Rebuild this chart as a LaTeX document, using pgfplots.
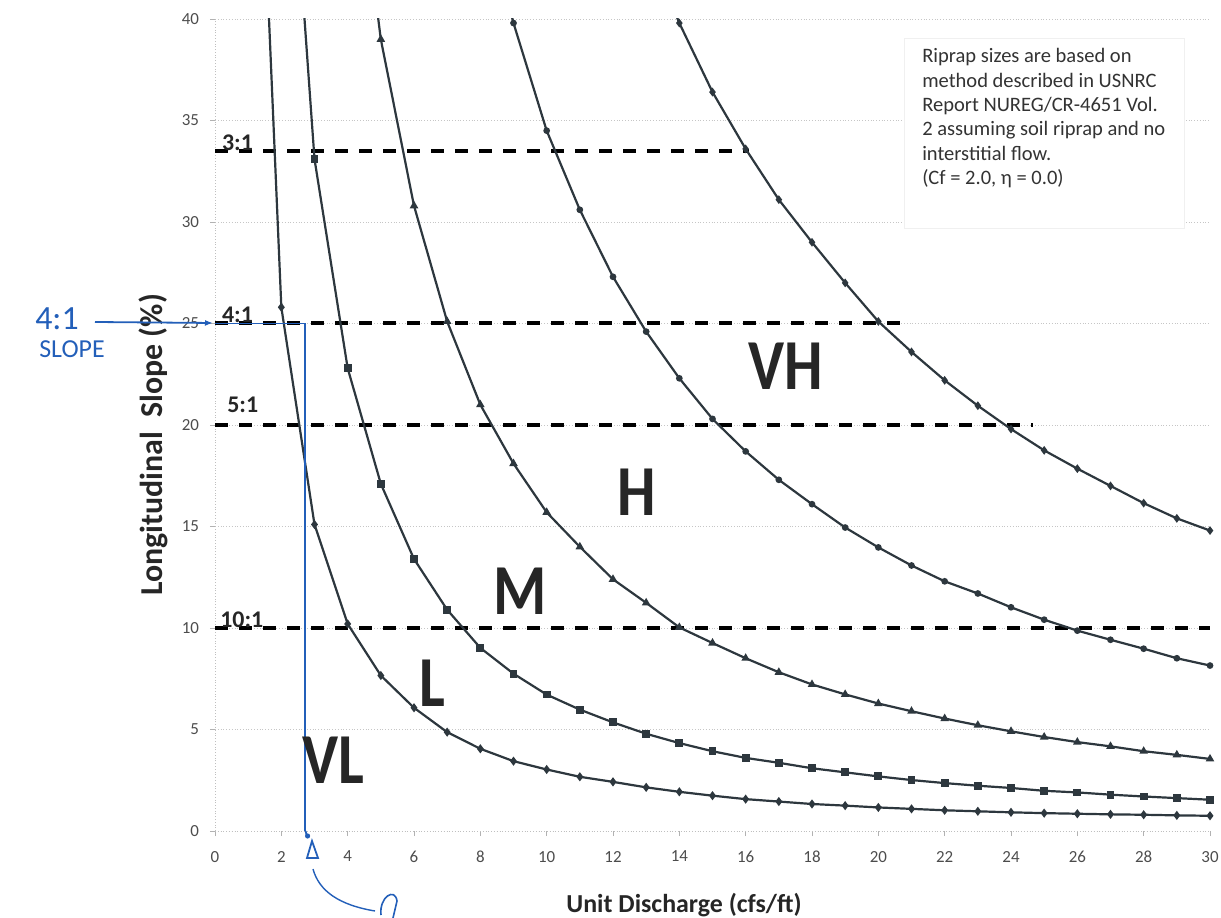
\documentclass[border=0pt]{standalone}
\usepackage{fontspec}
\setmainfont{Carlito}
\usepackage{pgfplots}
\pgfplotsset{compat=1.18}
\usetikzlibrary{arrows.meta}
\definecolor{curve}{RGB}{45,55,62}
\definecolor{pen}{RGB}{35,95,185}
\tikzset{
  reg/.style={font=\bfseries\fontsize{36}{36}\selectfont, text=black!85, xscale=0.85},
  sl/.style={anchor=south west, inner sep=0, font=\bfseries\fontsize{12}{12}\selectfont, text=black!85},
}
\begin{document}
\begin{tikzpicture}[x=1bp,y=1bp]
\useasboundingbox (-107.5bp,-43.5bp) rectangle (503bp,415.5bp);
\begin{axis}[
  at={(0,0)}, anchor=south west, scale only axis,
  width=497.5bp, height=406bp,
  xmin=0, xmax=30, ymin=0, ymax=40,
  xtick={0,2,...,30}, ytick={0,5,...,40},
  axis lines*=left,
  axis line style={draw=gray!50, densely dotted, -},
  ymajorgrids, grid style={densely dotted, gray!45},
  major tick length=2.5bp, tick style={gray!60, solid},
  tick align=outside,
  ticklabel style={font=\fontsize{8.5}{10}\selectfont, text=black!70},
  /pgf/number format/assume math mode=true,
  xticklabel style={yshift=-4bp}, yticklabel style={xshift=-2bp},
  clip mode=individual,
  rip/.style={color=curve, line width=1.1bp, mark size=1.4bp, mark options={solid, fill=curve}},
  dl/.style={black, line width=2bp, dash pattern=on 6.5bp off 5.5bp, no marks},
]
% slope reference lines
\addplot[dl] coordinates {(0,33.5)(16.1,33.5)};
\addplot[dl] coordinates {(0,25)(20.95,25)};
\addplot[dl] coordinates {(0,20)(24.66,20)};
\addplot[dl] coordinates {(0,10)(30,10)};
% riprap boundary curves
\addplot[rip, mark=diamond*] coordinates {(1,64)(2,25.8)(3,15.1)(4,10.2)(5,7.66)(6,6.07)(7,4.87)(8,4.05)(9,3.44)(10,3.03)(11,2.67)(12,2.42)(13,2.15)(14,1.93)(15,1.74)(16,1.57)(17,1.45)(18,1.33)(19,1.25)(20,1.16)(21,1.09)(22,1.02)(23,0.97)(24,0.92)(25,0.88)(26,0.85)(27,0.82)(28,0.8)(29,0.77)(30,0.75)};
\addplot[rip, mark=square*] coordinates {(2,56)(3,33.1)(4,22.8)(5,17.1)(6,13.4)(7,10.9)(8,9.02)(9,7.75)(10,6.72)(11,5.98)(12,5.35)(13,4.79)(14,4.33)(15,3.93)(16,3.6)(17,3.36)(18,3.09)(19,2.89)(20,2.69)(21,2.51)(22,2.36)(23,2.23)(24,2.12)(25,1.98)(26,1.9)(27,1.79)(28,1.7)(29,1.62)(30,1.54)};
\addplot[rip, mark=triangle*] coordinates {(4,52)(5,39)(6,30.8)(7,25.1)(8,21)(9,18.1)(10,15.7)(11,14)(12,12.4)(13,11.24)(14,10.03)(15,9.26)(16,8.51)(17,7.82)(18,7.22)(19,6.73)(20,6.28)(21,5.9)(22,5.54)(23,5.21)(24,4.91)(25,4.63)(26,4.38)(27,4.17)(28,3.93)(29,3.75)(30,3.55)};
\addplot[rip, mark=*, mark size=1.1bp] coordinates {(8,46.4)(9,39.8)(10,34.5)(11,30.6)(12,27.3)(13,24.6)(14,22.3)(15,20.3)(16,18.7)(17,17.3)(18,16.1)(19,14.95)(20,13.97)(21,13.08)(22,12.3)(23,11.7)(24,11.02)(25,10.41)(26,9.87)(27,9.42)(28,8.98)(29,8.51)(30,8.15)};
\addplot[rip, mark=diamond*, mark size=1.3bp] coordinates {(13,43.8)(14,39.8)(15,36.4)(16,33.6)(17,31.1)(18,29)(19,27)(20,25.1)(21,23.6)(22,22.2)(23,20.95)(24,19.8)(25,18.75)(26,17.85)(27,17)(28,16.15)(29,15.4)(30,14.8)};
% handwritten blue line
\addplot[pen, line width=0.9bp, no marks] coordinates {(0,25)(2.72,25)(2.72,0)};
% slope labels
\node[sl] at (axis cs:0.2,33.5) {3:1};
\node[sl] at (axis cs:0.2,25) {4:1};
\node[sl] at (axis cs:0.36,20.6) {5:1};
\node[sl] at (axis cs:0.15,10) {10:1};
% region labels
\node[reg] at (axis cs:17.2,22.9) {VH};
\node[reg] at (axis cs:12.72,16.7) {H};
\node[reg] at (axis cs:9.2,11.8) {M};
\node[reg] at (axis cs:6.54,7.3) {L};
\node[reg] at (axis cs:3.56,3.5) {VL};
% note box
\draw[gray!12, fill=white] (axis cs:20.8,39.06) rectangle (axis cs:29.24,29.7);
\node[anchor=north west, inner xsep=8.5bp, inner ysep=5bp, align=left, text=black!80, font=\fontsize{10.3}{12.25}\selectfont] at (axis cs:20.8,39.06) {Riprap sizes are based on\\ method described in USNRC\\ Report NUREG/CR-4651 Vol.\\ 2 assuming soil riprap and no\\ interstitial flow.\\ (Cf = 2.0, η = 0.0)};
\end{axis}
% axis titles
\node[font=\bfseries\fontsize{13}{14}\selectfont, text=black!85] at (234.5bp,-37bp) {Unit Discharge (cfs/ft)};
\node[rotate=90, font=\bfseries\fontsize{16}{18}\selectfont, text=black!85] at (-31bp,193bp) {Longitudinal\ \ Slope (\%)};
% handwritten annotations
\draw[pen, line width=0.9bp, -{Latex[length=4bp]}] (-60bp,254.5bp) -- (-1bp,254bp);
\node[pen, font=\fontsize{17}{17}\selectfont] at (-79bp,256bp) {4:1};
\node[pen, font=\fontsize{13}{13}\selectfont] at (-71.5bp,241bp) {SLOPE};
\draw[pen, line width=0.9bp] (45.3bp,0) -- (45.8bp,-2bp);
\fill[pen] (46.3bp,-2.5bp) circle (1.3bp);
\draw[pen, line width=0.9bp] (46bp,-13.5bp) -- (48.5bp,-5bp) -- (51.5bp,-13.5bp) -- cycle;
\draw[pen, line width=0.7bp] (49bp,-19bp) .. controls (52bp,-30bp) and (62bp,-37bp) .. (80bp,-40bp);
\draw[pen, line width=0.8bp] (83bp,-42bp) .. controls (82bp,-33bp) and (90bp,-28bp) .. (91bp,-35bp) -- (89bp,-43.5bp);
\end{tikzpicture}
\end{document}
